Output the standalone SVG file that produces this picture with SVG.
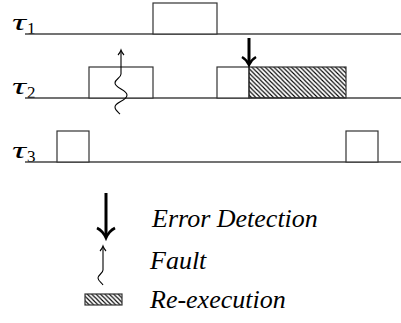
<svg xmlns="http://www.w3.org/2000/svg" width="401" height="323" viewBox="0 0 401 323">
<defs>
<pattern id="hatch" patternUnits="userSpaceOnUse" width="4.4" height="4.4">
<path d="M-1,3.4 l2,2 M0,0 l4.4,4.4 M3.4,-1 l2,2" stroke="#000" stroke-width="1.1"/>
</pattern>
</defs>
<g font-family="Liberation Serif, serif">
<g id="tau1">
<text x="12" y="30" font-style="italic" font-size="23" textLength="14" lengthAdjust="spacingAndGlyphs">τ</text>
<text x="27" y="34" font-size="17">1</text>
<line x1="25" y1="34" x2="401" y2="34" stroke="#444" stroke-width="1.3"/>
<rect x="153" y="3" width="64" height="31" fill="#fff" stroke="#333" stroke-width="1.2"/>
</g>
<g id="tau2">
<text x="12" y="94" font-style="italic" font-size="23" textLength="14" lengthAdjust="spacingAndGlyphs">τ</text>
<text x="27" y="98" font-size="17">2</text>
<line x1="25" y1="98" x2="401" y2="98" stroke="#444" stroke-width="1.3"/>
<g fill="#fff" stroke="#333" stroke-width="1.2">
<rect x="89" y="67" width="64" height="31"/>
<rect x="217" y="67" width="32" height="31"/>
<rect x="249" y="67" width="97" height="31" fill="url(#hatch)"/>
</g>
</g>
<g id="tau3">
<text x="12" y="158" font-style="italic" font-size="23" textLength="14" lengthAdjust="spacingAndGlyphs">τ</text>
<text x="27" y="162" font-size="17">3</text>
<line x1="25" y1="162" x2="401" y2="162" stroke="#444" stroke-width="1.3"/>
<g fill="#fff" stroke="#333" stroke-width="1.2">
<rect x="57" y="131" width="32" height="31"/>
<rect x="346" y="131" width="32" height="31"/>
</g>
</g>
<g id="connectors" fill="none" stroke="#000">
<path d="M249,38 L249,64" stroke-width="3"/>
<path d="M242,57 Q247,60 249,65 Q251,60 256,57" stroke-width="2.4"/>
<path d="M121,51 L121,74 C121,78 115,79 115,83 C115,88 127,90 127,95 C127,101 115,102 115,107 C115,110 118,112 120,114" stroke-width="1.1"/>
<path d="M118,55 Q120,53 121,50 Q122,53 124,55" stroke-width="1.1"/>
</g>
<g id="legend">
<g fill="none" stroke="#000">
<path d="M106,193 L106,236" stroke-width="3"/>
<path d="M97,228 Q103,231 106,238 Q109,231 115,228" stroke-width="2.6"/>
<path d="M103,247 L103,270 C103,273 98,275 98,278 C98,281 102,283 103,285" stroke-width="1.1"/>
<path d="M100,251 Q102,249 103,246 Q104,249 106,251" stroke-width="1.1"/>
</g>
<rect x="85" y="294" width="37" height="11" fill="url(#hatch)" stroke="#333" stroke-width="1.2"/>
<g font-style="italic" font-size="26">
<text x="152" y="227">Error Detection</text>
<text x="150" y="269">Fault</text>
<text x="150" y="308">Re-execution</text>
</g>
</g>
</g>
</svg>
